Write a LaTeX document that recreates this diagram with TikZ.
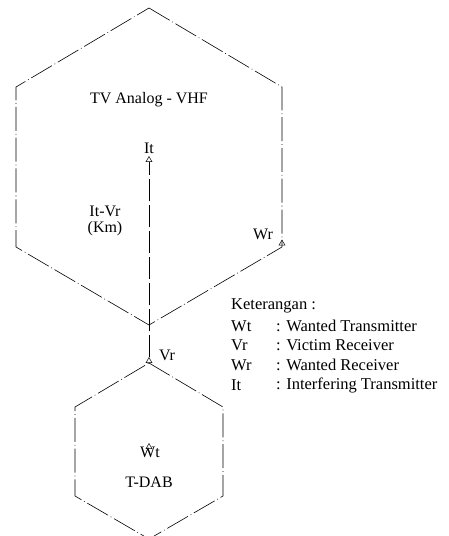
\documentclass[tikz,border=0pt]{standalone}
\usepackage{fontspec}
\setmainfont{Liberation Serif}
\usetikzlibrary{arrows.meta,shapes.geometric}
\begin{document}
\begin{tikzpicture}[x=1pt,y=-1pt,
  hexline/.style={line width=0.6pt,dash pattern=on 24pt off 3pt on 0.8pt off 3pt},
  distline/.style={line width=0.6pt,dash pattern=on 22pt off 4pt},
  lbl/.style={font=\fontsize{16}{18}\selectfont,inner sep=0pt},
  leg/.style={font=\fontsize{16.5}{18}\selectfont,inner sep=0pt,anchor=west},
  marker/.style={draw,isosceles triangle,shape border rotate=90,isosceles triangle apex angle=60,minimum width=6pt,minimum height=5pt,inner sep=0pt,line width=0.5pt}]
\useasboundingbox (0,0) rectangle (448,536);
% big hexagon
\coordinate (bt) at (149,8);
\coordinate (bur) at (282,87);
\coordinate (blr) at (282,247);
\coordinate (bb) at (149,325);
\coordinate (bll) at (16,247);
\coordinate (bul) at (16,87);
\draw[hexline] (bt) -- (bur) -- (blr) -- (bb) -- (bll) -- (bul) -- cycle;
% small hexagon
\coordinate (st) at (149,363);
\coordinate (sur) at (223,407);
\coordinate (slr) at (223,496);
\coordinate (sb) at (149,539);
\coordinate (sll) at (75,496);
\coordinate (sul) at (75,407);
\draw[hexline] (st) -- (sur) -- (slr) -- (sb) -- (sll) -- (sul) -- cycle;
% markers
\node[marker] (vr) at (149,361) {};
\node[marker] (wr) at (282,243.5) {};
\node[marker] (wt) at (149,447) {};
\node[marker,fill=white] (it) at (149,160) {};
% distance line
\draw[distline] (vr.apex) -- (it.south);
% labels
\node[lbl] (ittxt) at (149,148) {It};
\node[lbl] (tv) at (149,100) {TV Analog - VHF};
\node[lbl] (itvr) at (105,211) {It-Vr};
\node[lbl] (km) at (105,229) {(Km)};
\node[lbl] (wrtxt) at (263,234) {Wr};
\node[lbl] (vrtxt) at (167,355) {Vr};
\node[lbl] (wttxt) at (150,452) {Wt};
\node[lbl] (tdab) at (149,482) {T-DAB};
% legend
\node[leg] (ket) at (231,306) {Keterangan :};
\node[leg] (k1) at (231,326) {Wt};
\node[leg] (k2) at (231,345.5) {Vr};
\node[leg] (k3) at (231,365) {Wr};
\node[leg] (k4) at (231,385) {It};
\node[leg] (d1) at (276,326) {: Wanted Transmitter};
\node[leg] (d2) at (276,345.5) {: Victim Receiver};
\node[leg] (d3) at (276,365) {: Wanted Receiver};
\node[leg] (d4) at (276,385) {: Interfering Transmitter};
\end{tikzpicture}
\end{document}
